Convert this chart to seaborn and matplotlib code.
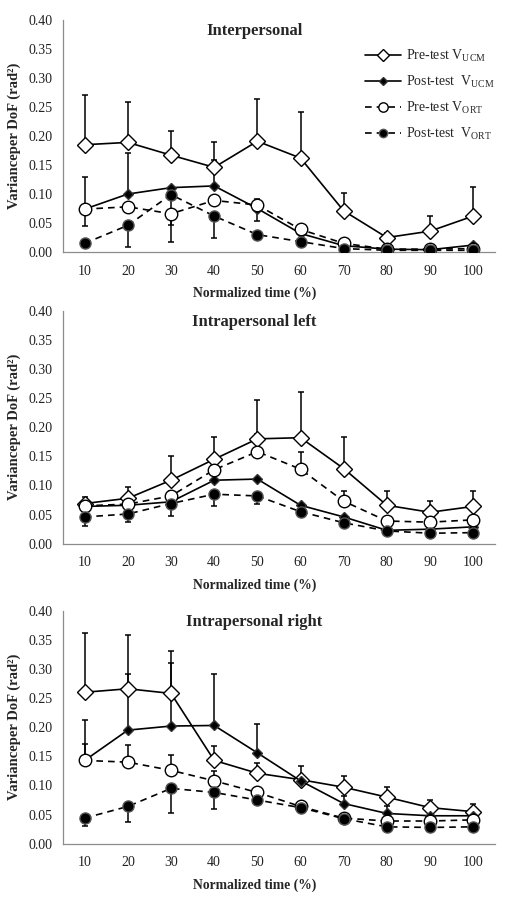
import numpy as np
import pandas as pd
import matplotlib
matplotlib.use("Agg")
import matplotlib.pyplot as plt
from matplotlib.lines import Line2D
import seaborn as sns

sns.set_theme(style="white")
plt.rcParams['font.family'] = ['Liberation Serif', 'DejaVu Serif']
plt.rcParams['mathtext.fontset'] = 'custom'
plt.rcParams['mathtext.rm'] = 'Liberation Serif'
plt.rcParams['mathtext.it'] = 'Liberation Serif:italic'
plt.rcParams['mathtext.bf'] = 'Liberation Serif:bold'

time_pct = [10, 20, 30, 40, 50, 60, 70, 80, 90, 100]
y_ticks = [0.00, 0.05, 0.10, 0.15, 0.20, 0.25, 0.30, 0.35, 0.40]
panel_titles = ["Interpersonal", "Intrapersonal left", "Intrapersonal right"]
series_names = [r"Pre-test V$_{\mathrm{UCM}}$", r"Post-test  V$_{\mathrm{UCM}}$",
                r"Pre-test V$_{\mathrm{ORT}}$", r"Post-test  V$_{\mathrm{ORT}}$"]

# Interpersonal
inter_pre_ucm = [0.185, 0.189, 0.167, 0.146, 0.191, 0.162, 0.071, 0.025, 0.036, 0.062]
inter_post_ucm = [0.074, 0.100, 0.111, 0.114, 0.075, 0.032, 0.011, 0.005, 0.004, 0.012]
inter_pre_ort = [0.074, 0.078, 0.066, 0.089, 0.081, 0.039, 0.015, 0.005, 0.005, 0.006]
inter_post_ort = [0.015, 0.046, 0.099, 0.062, 0.030, 0.018, 0.006, 0.003, 0.003, 0.003]
# signed error: + drawn upward, - drawn downward
inter_pre_ucm_err = [0.085, 0.069, 0.042, 0.043, 0.072, 0.080, 0.031, 0.008, 0.026, 0.050]
inter_post_ucm_err = [-0.029, 0.071, 0, 0.045, -0.022, 0, 0, 0, 0, 0]
inter_pre_ort_err = [0.055, 0, -0.020, 0, 0.011, 0, 0, 0, 0, 0]
inter_post_ort_err = [0, -0.037, -0.081, -0.037, 0, 0, 0, 0, 0, 0]

# Intrapersonal left
left_pre_ucm = [0.069, 0.078, 0.109, 0.145, 0.180, 0.182, 0.129, 0.066, 0.054, 0.064]
left_post_ucm = [0.064, 0.066, 0.072, 0.109, 0.111, 0.066, 0.046, 0.023, 0.025, 0.029]
left_pre_ort = [0.065, 0.068, 0.082, 0.127, 0.158, 0.128, 0.073, 0.039, 0.037, 0.041]
left_post_ort = [0.046, 0.051, 0.069, 0.085, 0.082, 0.055, 0.036, 0.022, 0.018, 0.019]
left_pre_ucm_err = [0.012, 0.019, 0.042, 0.039, 0.066, 0.078, 0.055, 0.025, 0.019, 0.027]
left_post_ucm_err = [0, 0, 0, 0, 0, 0, 0, 0, 0, 0]
left_pre_ort_err = [0, 0, 0.009, 0, 0.031, 0.029, 0.017, 0, 0, 0]
left_post_ort_err = [-0.015, -0.013, -0.021, -0.020, -0.014, 0, 0, 0, 0, 0]

# Intrapersonal right
right_pre_ucm = [0.260, 0.266, 0.258, 0.143, 0.121, 0.110, 0.097, 0.080, 0.062, 0.055]
right_post_ucm = [0.143, 0.195, 0.202, 0.203, 0.156, 0.108, 0.069, 0.052, 0.048, 0.048]
right_pre_ort = [0.143, 0.140, 0.126, 0.108, 0.088, 0.064, 0.044, 0.039, 0.039, 0.041]
right_post_ort = [0.044, 0.064, 0.095, 0.088, 0.075, 0.062, 0.043, 0.029, 0.028, 0.029]
right_pre_ucm_err = [0.101, 0.093, 0.073, 0.024, 0.018, 0.023, 0.020, 0.018, 0.013, 0.013]
right_post_ucm_err = [0.070, 0.096, 0.108, 0.088, 0.049, 0, 0.013, 0.013, 0, 0]
right_pre_ort_err = [0.029, 0.029, 0.026, 0.017, 0, 0, 0, 0, 0, 0]
right_post_ort_err = [-0.013, -0.026, -0.043, -0.029, -0.009, 0, 0, 0, 0, 0]

panels = [
    ([inter_pre_ucm, inter_post_ucm, inter_pre_ort, inter_post_ort],
     [inter_pre_ucm_err, inter_post_ucm_err, inter_pre_ort_err, inter_post_ort_err]),
    ([left_pre_ucm, left_post_ucm, left_pre_ort, left_post_ort],
     [left_pre_ucm_err, left_post_ucm_err, left_pre_ort_err, left_post_ort_err]),
    ([right_pre_ucm, right_post_ucm, right_pre_ort, right_post_ort],
     [right_pre_ucm_err, right_post_ucm_err, right_pre_ort_err, right_post_ort_err]),
]

# marker / line style per series
dash = (0, (4, 3))
styles = [
    dict(marker="D", markersize=8, markerfacecolor="white", markeredgecolor="black", linestyle="-"),
    dict(marker="D", markersize=5, markerfacecolor="black", markeredgecolor="#333333", linestyle="-"),
    dict(marker="o", markersize=9, markerfacecolor="white", markeredgecolor="black", linestyle=dash),
    dict(marker="o", markersize=8, markerfacecolor="black", markeredgecolor="#555555", linestyle=dash),
]

fig = plt.figure(figsize=(5.09, 9.05), dpi=100)
axes_rects = [
    [0.124, 0.7215, 0.848, 0.2564],
    [0.124, 0.3992, 0.848, 0.2575],
    [0.124, 0.0677, 0.848, 0.2575],
]
grey = "#8c8c8c"

for p, (vals, errs) in enumerate(panels):
    ax = fig.add_axes(axes_rects[p])
    for s in range(4):
        v = np.array(vals[s])
        e = np.array(errs[s])
        t = np.array(time_pct)
        m = e != 0
        if m.any():
            lo = np.where(e[m] < 0, -e[m], 0)
            hi = np.where(e[m] > 0, e[m], 0)
            ax.errorbar(t[m], v[m], yerr=[lo, hi], fmt="none", ecolor="black",
                        elinewidth=1.1, capsize=2.4, capthick=1.1, zorder=1.5 + s * 0.1)
    for s in range(4):
        df = pd.DataFrame({"time": time_pct, "value": vals[s]})
        sns.lineplot(data=df, x="time", y="value", ax=ax, color="black",
                     linewidth=1.2, markeredgewidth=1.0,
                     errorbar=None, zorder=3 + s, **styles[s])

    ax.set_xlim(5, 105)
    ax.set_ylim(0, 0.40)
    ax.set_xticks(time_pct)
    ax.set_xticklabels([str(t) for t in time_pct])
    ax.set_xticks(np.arange(5, 106, 10), minor=True)
    ax.set_yticks(y_ticks)
    ax.set_yticklabels(["%.2f" % y for y in y_ticks])
    ax.tick_params(axis="x", which="major", length=0, pad=9, labelsize=10, colors="#222222")
    ax.tick_params(axis="x", which="minor", direction="out", length=3.5, width=0.8, color=grey)
    ax.tick_params(axis="y", which="major", direction="out", length=3.5, width=0.8,
                   color=grey, pad=4, labelsize=10, labelcolor="#222222")
    for side in ["top", "right"]:
        ax.spines[side].set_visible(False)
    for side in ["left", "bottom"]:
        ax.spines[side].set_color(grey)
        ax.spines[side].set_linewidth(0.9)

    ax.set_xlabel("Normalized time (%)", fontsize=9.8, fontweight="bold")
    ax.xaxis.set_label_coords(0.444, -0.15)
    ax.set_ylabel("Varianceper DoF (rad²)", fontsize=10.5, fontweight="bold")
    ax.yaxis.set_label_coords(-0.097, 0.5)
    ax.text(0.443, 0.953, panel_titles[p], transform=ax.transAxes, ha="center", va="center",
            fontsize=12, fontweight="bold")

    if p == 0:
        handles = [Line2D([], [], color="black", linewidth=1.2, markeredgewidth=1.0,
                          **dict(styles[s], markersize=styles[s]["markersize"] * 0.75))
                   for s in range(4)]
        ax.legend(handles, series_names, loc="upper left", bbox_to_anchor=(0.70, 0.88),
                  frameon=False, fontsize=10, handlelength=2.6, handletextpad=0.3,
                  labelspacing=0.72, borderpad=0, borderaxespad=0)

fig.savefig("out.png", dpi=100)
